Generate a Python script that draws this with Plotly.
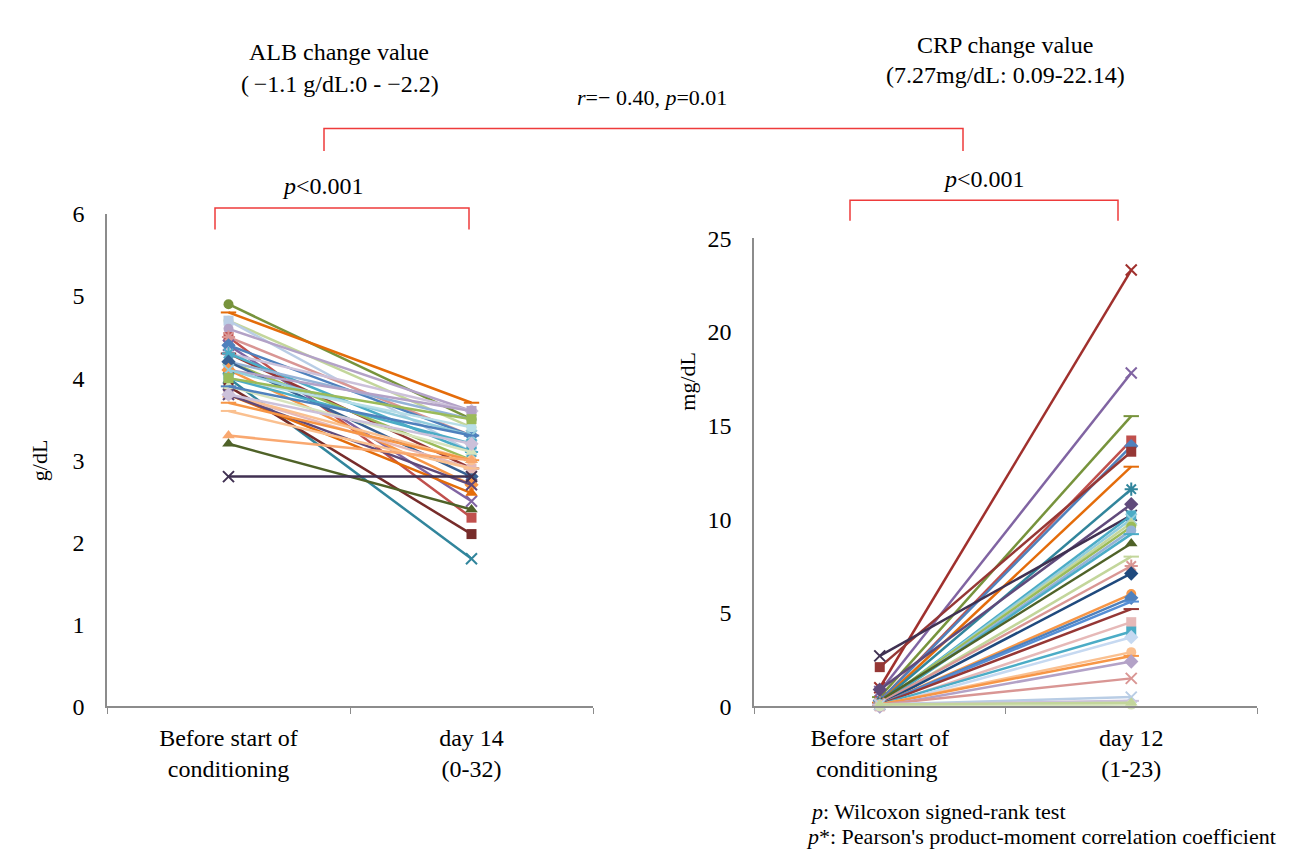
import plotly.graph_objects as go

W, H = 1307, 854
FONT = "Liberation Serif, Times New Roman, serif"

# ---------------- data ----------------
alb_categories = ["Before start of<br>conditioning", "day 14<br>(0-32)"]
crp_categories = ["Before start of<br>conditioning ", "day 12<br>(1-23)"]

alb_before = [4.9, 4.8, 4.7, 4.7, 4.6, 4.5, 4.5, 4.4, 4.4, 4.3, 4.3, 4.3, 4.2, 4.2, 4.2, 4.1, 4.1, 4.1,
              4.0, 4.0, 4.0, 3.9, 3.9, 3.9, 3.8, 3.8, 3.8, 3.8, 3.8, 3.7, 3.6, 3.3, 3.2, 2.8, 4.0]
alb_after = [3.5, 3.7, 3.4, 3.1, 3.6, 2.3, 3.3, 2.5, 3.3, 3.6, 2.9, 3.1, 3.0, 3.5, 2.8, 3.6, 2.7, 3.3,
             1.8, 3.4, 3.2, 2.1, 3.1, 3.3, 2.9, 2.6, 3.0, 2.7, 3.2, 3.0, 2.9, 3.0, 2.4, 2.8, 3.5]

crp_before = [1.0, 0.8, 0.5, 0.3, 0.3, 2.1, 0.2, 0.2, 0.9, 2.7, 0.1, 0.1, 0.1, 0.2, 0.1, 0.1, 0.3, 0.1,
              0.2, 0.1, 0.1, 0.1, 0.1, 0.1, 0.0, 0.1, 0.0, 0.1, 0.1, 0.0, 0.1, 0.1, 0.1, 0.0, 0.1]
crp_after = [23.3, 17.8, 15.5, 14.2, 13.9, 13.6, 12.8, 11.6, 10.8, 10.2, 10.2, 10.0, 9.8, 9.6, 9.4, 9.2,
             8.7, 8.0, 7.5, 7.1, 6.0, 5.8, 5.6, 5.2, 4.5, 4.0, 3.7, 2.9, 2.7, 2.4, 1.5, 0.5, 0.3, 0.1, 0.2]

alb_yticks = [0, 1, 2, 3, 4, 5, 6]
crp_yticks = [0, 5, 10, 15, 20, 25]

# ---------------- styles ----------------
alb_colors = ["#77933C", "#E46C0A", "#C3D69B", "#B9CDE5", "#B3A2C7", "#C0504D", "#D99694", "#8064A2",
              "#4F81BD", "#CCC1DA", "#953735", "#4BACC6", "#9BBB59", "#95B3D7", "#376092", "#B3A2C7",
              "#F79646", "#93CDDD", "#31859C", "#B7DEE8", "#4BACC6", "#772C2A", "#D7E4BD", "#4F81BD",
              "#E6B9B8", "#E46C0A", "#FAC090", "#5F497A", "#CCC1DA", "#F79646", "#FAC090", "#F9A870",
              "#4F6228", "#403152", "#9BBB59"]
alb_markers = ["circle", "line-ew-open", "circle", "square", "circle", "square", "asterisk-open", "x-thin-open",
               "diamond", "diamond", "line-ew-open", "asterisk-open", "triangle-up", "circle", "diamond", "square",
               "diamond", "x-thin-open", "x-thin-open", "circle", "square", "square", "triangle-up", "line-ew-open",
               "square", "triangle-up", "circle", "x-thin-open", "diamond", "line-ew-open", "line-ew-open",
               "triangle-up", "triangle-up", "x-thin-open", "square"]

crp_colors = ["#A0302D", "#8064A2", "#77933C", "#C0504D", "#4F81BD", "#953735", "#E46C0A", "#31859C",
              "#604A7B", "#403152", "#4BACC6", "#93CDDD", "#C3D69B", "#9BBB59", "#95B3D7", "#4BACC6",
              "#4F6228", "#C3D69B", "#D99694", "#1F497D", "#F79646", "#4F81BD", "#558ED5", "#953735",
              "#E6B9B8", "#4BACC6", "#C6D9F1", "#FAC090", "#F79646", "#B3A2C7", "#D99694", "#B9CDE5",
              "#CCC1DA", "#D7E4BD", "#C3D69B"]
crp_markers = ["x-thin-open", "x-thin-open", "line-ew-open", "square", "diamond", "square", "line-ew-open",
               "asterisk-open", "diamond", "x-thin-open", "square", "x-thin-open", "triangle-up", "circle",
               "circle", "line-ew-open", "triangle-up", "line-ew-open", "asterisk-open", "diamond", "circle",
               "diamond", "line-ew-open", "line-ew-open", "square", "square", "diamond", "circle",
               "line-ew-open", "diamond", "x-thin-open", "x-thin-open", "line-ew-open", "circle", "triangle-up"]


def marker_style(sym, color):
    if sym.endswith("-open"):
        return dict(symbol=sym, size=11, color=color, line=dict(color=color, width=2))
    size = 11 if sym in ("diamond", "triangle-up") else 10
    return dict(symbol=sym, size=size, color=color, line=dict(width=0))


fig = go.Figure()
for b, a, c, m in zip(alb_before, alb_after, alb_colors, alb_markers):
    fig.add_trace(go.Scatter(x=alb_categories, y=[b, a], mode="lines+markers",
                             line=dict(color=c, width=2.5), marker=marker_style(m, c),
                             xaxis="x", yaxis="y", showlegend=False, cliponaxis=False))
for b, a, c, m in zip(crp_before, crp_after, crp_colors, crp_markers):
    fig.add_trace(go.Scatter(x=crp_categories, y=[b, a], mode="lines+markers",
                             line=dict(color=c, width=2.5), marker=marker_style(m, c),
                             xaxis="x2", yaxis="y2", showlegend=False, cliponaxis=False))


def px(x):
    return x / W


def py(y):
    return 1 - y / H


axis_col = "#8C8C8C"
xcommon = dict(type="category", tickson="boundaries", ticks="outside", ticklen=6, tickcolor=axis_col,
               showline=True, linecolor=axis_col, linewidth=1.5, showgrid=False, zeroline=False,
               range=[-0.5, 1.5], tickfont=dict(family=FONT, size=24, color="black"),
               ticklabelstandoff=9)
ycommon = dict(showline=True, linecolor=axis_col, linewidth=1.5, showgrid=False, zeroline=False,
               ticks="", tickfont=dict(family=FONT, size=24, color="black"), ticklabelstandoff=16)

fig.update_layout(
    width=W, height=H, margin=dict(l=0, r=0, t=0, b=0),
    paper_bgcolor="white", plot_bgcolor="white",
    xaxis=dict(domain=[px(99), px(585)], anchor="y", **xcommon),
    yaxis=dict(domain=[py(707), py(199)], anchor="x", range=[0, 6], tickvals=alb_yticks, **ycommon),
    xaxis2=dict(domain=[px(746), px(1249)], anchor="y2", **xcommon),
    yaxis2=dict(domain=[py(707), py(224)], anchor="x2", range=[0, 25], tickvals=crp_yticks, **ycommon),
)

red = "#EE3B3B"


def bracket(x1, x2, ytop, ybot):
    path = f"M {px(x1)},{py(ybot)} L {px(x1)},{py(ytop)} L {px(x2)},{py(ytop)} L {px(x2)},{py(ybot)}"
    fig.add_shape(type="path", path=path, xref="paper", yref="paper",
                  line=dict(color=red, width=1.5))


bracket(316, 955, 111, 134)
bracket(207, 461, 193, 215)
bracket(842, 1110, 185, 206)


def text(x, y, s, size=24, xanchor="center", angle=0):
    fig.add_annotation(x=px(x), y=py(y), xref="paper", yref="paper", text=s, showarrow=False,
                       xanchor=xanchor, yanchor="middle", textangle=angle,
                       font=dict(family=FONT, size=size, color="black"))


text(331, 32, "ALB change value")
text(332, 65, "(\u2009\u22121.1 g/dL:0 - \u22122.2)")
text(997, 25, "CRP change value")
text(997, 56, "(7.27mg/dL: 0.09-22.14)")
text(644, 79, "<i>r</i>=\u2212 0.40, <i>p</i>=0.01", size=22)
text(315, 170, "<i>p</i>&lt;0.001")
text(976, 163, "<i>p</i>&lt;0.001")
text(31, 453, "g/dL", size=22, angle=-90)
text(680, 372, "mg/dL", size=22, angle=-90)
text(800, 815, "<i>p</i>: Wilcoxon signed-rank test", size=22, xanchor="left")
text(796, 841, "<i>p</i>*: Pearson's product-moment correlation coefficient", size=22, xanchor="left")

fig.write_html("out.html")
